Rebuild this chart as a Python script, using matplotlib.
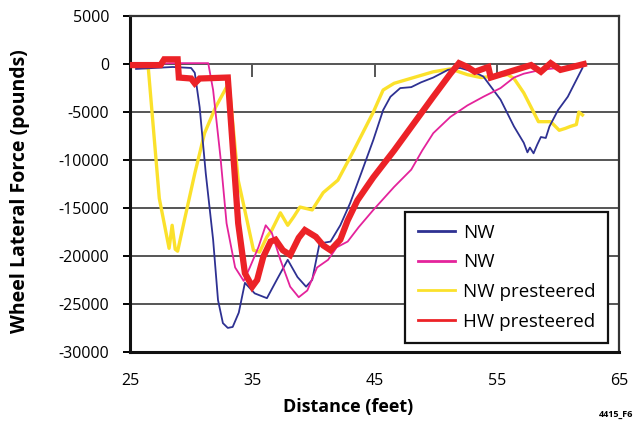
import matplotlib.pyplot as plt
from matplotlib.lines import Line2D

plt.rcParams['font.family'] = ['Open Sans', 'DejaVu Sans']
plt.rcParams['axes.unicode_minus'] = False

# NW (blue)
nw1_x = [25.5, 27.0, 28.5, 30.0, 30.3, 30.7, 31.2, 31.8, 32.2, 32.6, 33.0, 33.4, 33.9, 34.4, 35.2, 36.2,
         37.0, 37.9, 38.7, 39.4, 39.9, 40.5, 41.4, 42.2, 43.0, 43.9, 44.9, 45.7, 46.3, 47.1, 48.0, 48.8,
         49.8, 51.0, 52.0, 53.1, 53.9, 55.3, 56.4, 57.2, 57.5, 57.7, 58.0, 58.3, 58.6, 59.0, 59.3, 60.0,
         60.8, 61.6, 62.0]
nw1_y = [-500, -400, -300, -400, -900, -4500, -11400, -18300, -24600, -27000, -27500, -27400, -25900,
         -22800, -23900, -24400, -22500, -20400, -22200, -23200, -22500, -18700, -18500, -16800, -14500,
         -11400, -7900, -4800, -3400, -2500, -2400, -1900, -1400, -600, -400, -800, -1300, -3700, -6500,
         -8200, -9200, -8700, -9300, -8400, -7600, -7700, -6500, -4800, -3400, -1400, -400]

# NW (magenta)
nw2_x = [25.5, 28.3, 31.4, 31.8, 32.4, 32.9, 33.6, 34.3, 34.8, 35.5, 36.1, 36.6, 37.3, 38.1, 38.8, 39.5,
         40.3, 41.2, 41.9, 42.8, 43.7, 44.9, 46.6, 48.0, 48.9, 49.8, 51.2, 52.6, 53.9, 55.3, 56.4, 57.2,
         58.6, 60.0, 61.5]
nw2_y = [-100, 100, 100, -2700, -9700, -16600, -21200, -22600, -21200, -19100, -16800, -17600, -20400,
         -23200, -24300, -23600, -21200, -20400, -19100, -18500, -17000, -15200, -12800, -11000, -9000,
         -7200, -5500, -4300, -3400, -2500, -1400, -1000, -600, -400, -200]

# NW presteered (yellow)
nwp_x = [25.0, 26.5, 27.4, 28.2, 28.45, 28.7, 28.9, 29.5, 30.3, 31.1, 32.0, 32.9, 33.1, 33.85, 34.3,
         35.1, 35.6, 36.2, 36.6, 37.3, 37.9, 38.4, 38.9, 39.9, 40.8, 42.0, 43.3, 44.9, 45.7, 46.6, 48.2,
         49.8, 51.2, 52.6, 53.7, 55.9, 56.4, 57.2, 58.0, 58.4, 59.4, 60.1, 60.6, 61.0, 61.5, 61.7, 62.0]
nwp_y = [-200, -400, -14000, -19200, -16800, -19300, -19500, -16000, -11400, -7200, -4500, -2400, -2000,
         -12100, -14700, -19400, -19600, -18000, -17300, -15500, -16800, -15900, -14900, -15200, -13400,
         -12100, -9000, -5000, -2700, -2000, -1400, -800, -500, -1100, -1400, -1100, -1500, -3000, -5000,
         -6000, -6000, -6900, -6700, -6500, -6300, -5000, -5300]

# HW presteered (red)
hwp_x = [25.2, 27.5, 27.8, 28.9, 29.0, 30.0, 30.3, 30.7, 33.0, 33.85, 34.4, 35.0, 35.4, 35.9, 36.5,
         36.9, 37.5, 38.1, 38.8, 39.3, 40.2, 40.8, 41.4, 42.2, 42.8, 43.6, 44.9, 46.6, 48.2, 49.8, 51.2,
         51.9, 52.6, 53.2, 54.3, 54.5, 57.8, 58.6, 59.4, 60.2, 62.1]
hwp_y = [-100, -100, 500, 500, -1400, -1500, -2000, -1500, -1400, -16600, -21800, -23200, -22500,
         -20100, -18500, -18300, -19400, -19900, -18100, -17300, -18000, -18900, -19400, -18300, -16300,
         -14200, -11800, -9000, -6200, -3400, -1000, 100, -300, -800, -300, -1400, -100, -800, 100, -600, 0]

labels = ['NW', 'NW', 'NW presteered', 'HW presteered']
colors = ['#2e3192', '#e4239b', '#fbe12b', '#ec2227']

fig = plt.figure(figsize=(6.37, 4.25), dpi=100)
ax = fig.add_axes([0.204, 0.172, 0.768, 0.79])

ax.plot(nwp_x, nwp_y, color=colors[2], lw=2.4, zorder=3)
ax.plot(nw1_x, nw1_y, color=colors[0], lw=1.3, zorder=4)
ax.plot(nw2_x, nw2_y, color=colors[1], lw=1.3, zorder=4)
ax.plot(hwp_x, hwp_y, color=colors[3], lw=4.5, zorder=5, solid_joinstyle='miter')

ax.set_xlim(25, 65)
ax.set_ylim(-30000, 5000)
ax.set_xticks([25, 35, 45, 55, 65])
ax.set_yticks(range(-30000, 5001, 5000))
ax.yaxis.grid(True, color='#555555', lw=1.4)
ax.set_axisbelow(True)
# small tick marks on the zero line
ax.vlines([35, 45, 55], -1300, 0, color='#555555', lw=1.4, zorder=2)

ax.tick_params(axis='x', length=0, pad=15, labelsize=11.5)
ax.tick_params(axis='y', length=5, width=1.4, direction='out', pad=10, labelsize=11.5)
for s in ['left', 'bottom']:
    ax.spines[s].set_linewidth(2.2)
    ax.spines[s].set_color('#111111')
for s in ['top', 'right']:
    ax.spines[s].set_linewidth(1.6)
    ax.spines[s].set_color('#333333')

ax.set_xlabel('Distance (feet)', fontsize=13, fontweight='bold')
ax.set_ylabel('Wheel Lateral Force (pounds)', fontsize=14, fontweight='bold')
ax.xaxis.set_label_coords(0.446, -0.138)
ax.yaxis.set_label_coords(-0.205, 0.48)

handles = [Line2D([], [], color=c, lw=2) for c in colors]
leg = ax.legend(handles, labels, loc='lower right', bbox_to_anchor=(0.9775, 0.027), borderaxespad=0,
                fontsize=13.5, fancybox=False, framealpha=1, handlelength=2.0, handletextpad=0.45,
                labelspacing=0.62, borderpad=0.65)
leg.get_frame().set_edgecolor('#111111')
leg.get_frame().set_linewidth(1.6)

fig.text(0.94, 0.018, '4415_F6', fontsize=6.5, fontweight='bold')

fig.savefig('out.png', dpi=100)
